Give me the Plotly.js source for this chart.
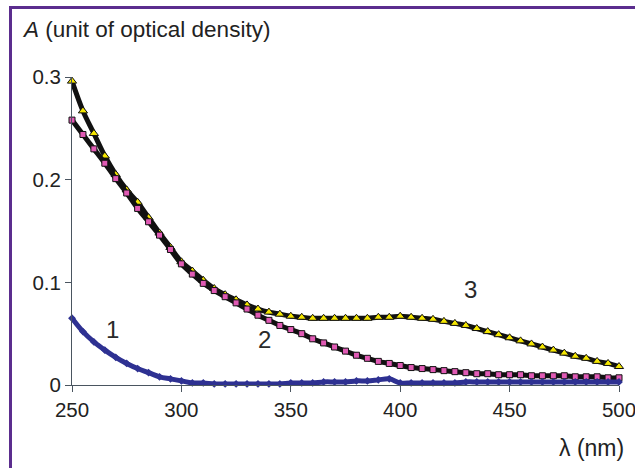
<!DOCTYPE html>
<html>
<head>
<meta charset="utf-8">
<script src="https://cdn.plot.ly/plotly-3.0.1.min.js"></script>
<style>
  html, body { margin: 0; padding: 0; background: #ffffff; }
  #wrap { position: relative; width: 635px; height: 468px; overflow: hidden; }
  #frame { position: absolute; left: 9px; top: 6px; width: 640px; height: 480px;
           border-left: 3px solid #5b2d8e; border-top: 3px solid #5b2d8e; pointer-events: none; }
  #chart { position: absolute; left: 0; top: 0; width: 635px; height: 468px; }
</style>
</head>
<body>
<div id="wrap">
  <div id="chart"></div>
  <div id="frame"></div>
</div>
<script>
// Wavelength (nm)
const wavelength = [250,255,260,265,270,275,280,285,290,295,300,305,310,315,320,325,330,335,340,345,
  350,355,360,365,370,375,380,385,390,395,400,405,410,415,420,425,430,435,440,445,
  450,455,460,465,470,475,480,485,490,495,500];

// Curve 1 (blue)
const curve1 = [0.065,0.052,0.042,0.034,0.027,0.021,0.016,0.012,0.008,0.006,0.004,0.002,0.002,0.001,0.001,0.001,0.001,0.001,0.001,0.001,
  0.002,0.002,0.002,0.003,0.003,0.003,0.004,0.004,0.005,0.006,0.002,0.002,0.002,0.002,0.002,0.002,0.003,0.003,0.003,0.003,
  0.003,0.003,0.003,0.003,0.003,0.003,0.003,0.003,0.003,0.003,0.003];

// Curve 2 (pink)
const curve2 = [0.258,0.244,0.230,0.216,0.201,0.187,0.172,0.159,0.146,0.132,0.118,0.108,0.099,0.092,0.086,0.080,0.074,0.068,0.063,0.058,
  0.054,0.050,0.045,0.041,0.037,0.033,0.029,0.026,0.023,0.021,0.019,0.017,0.016,0.015,0.014,0.013,0.012,0.011,0.011,0.010,
  0.010,0.010,0.009,0.009,0.009,0.009,0.008,0.008,0.008,0.007,0.007];

// Curve 3 (yellow)
const curve3 = [0.296,0.267,0.245,0.223,0.205,0.190,0.178,0.163,0.148,0.134,0.120,0.111,0.102,0.094,0.088,0.083,0.078,0.074,0.071,0.069,
  0.067,0.066,0.065,0.065,0.065,0.065,0.065,0.065,0.066,0.066,0.067,0.066,0.065,0.064,0.062,0.060,0.058,0.055,0.052,0.049,
  0.046,0.043,0.040,0.037,0.034,0.031,0.028,0.026,0.023,0.021,0.018];

// Curve labels
const labelText = ['1','2','3'];
const labelX = [268.5, 338, 432];
const labelY = [0.054, 0.044, 0.093];

const xTicks = [250,300,350,400,450,500];
const yTicks = [0,0.1,0.2,0.3];
const yTickText = ['0','0.1','0.2','0.3'];

const font = 'Liberation Sans, Arial, sans-serif';

const traces = [
  {
    x: wavelength, y: curve3, type: 'scatter', mode: 'lines+markers', cliponaxis: false,
    line: {color: '#111111', width: 5, shape: 'spline'},
    marker: {symbol: 'triangle-up', size: 8, color: '#f4e600', line: {color: '#111111', width: 1}},
    hoverinfo: 'skip'
  },
  {
    x: wavelength, y: curve2, type: 'scatter', mode: 'lines+markers', cliponaxis: false,
    line: {color: '#111111', width: 5, shape: 'spline'},
    marker: {symbol: 'square', size: 6, color: '#e05ab4', line: {color: '#111111', width: 1}},
    hoverinfo: 'skip'
  },
  {
    x: wavelength, y: curve1, type: 'scatter', mode: 'lines+markers', cliponaxis: false,
    line: {color: '#2e3192', width: 5, shape: 'spline'},
    marker: {symbol: 'diamond', size: 6, color: '#2e3192'},
    hoverinfo: 'skip'
  }
];

const annotations = labelText.map((t, i) => ({
  x: labelX[i], y: labelY[i], xref: 'x', yref: 'y', text: t, showarrow: false,
  font: {family: font, size: 24, color: '#2a2a2a'}
}));

annotations.push({
  xref: 'paper', yref: 'paper', x: -0.095, y: 1.1526, xanchor: 'left', yanchor: 'middle',
  text: '<i>A</i> (unit of optical density)', showarrow: false,
  font: {family: font, size: 22.5, color: '#222222'}
});
annotations.push({
  xref: 'paper', yref: 'paper', x: 1.013, y: -0.205, xanchor: 'right', yanchor: 'middle',
  text: 'λ (nm)', showarrow: false,
  font: {family: font, size: 23, color: '#222222'}
});

const layout = {
  width: 635, height: 468,
  margin: {l: 72, r: 16, t: 77, b: 83, pad: 0},
  paper_bgcolor: '#ffffff', plot_bgcolor: '#ffffff',
  showlegend: false,
  xaxis: {
    range: [250, 500], tickvals: xTicks, ticks: 'outside', ticklen: 6, tickcolor: '#4a5560', tickwidth: 1,
    showline: true, linecolor: '#4a5560', linewidth: 1, showgrid: false, zeroline: false,
    ticklabeloverflow: 'allow',
    tickfont: {family: font, size: 20.5, color: '#222222'}, anchor: 'y'
  },
  yaxis: {
    range: [0, 0.3], tickvals: yTicks, ticktext: yTickText, ticks: 'outside', ticklen: 6, tickcolor: '#4a5560', tickwidth: 1,
    showline: true, linecolor: '#4a5560', linewidth: 1, showgrid: false, zeroline: false,
    ticklabeloverflow: 'allow',
    tickfont: {family: font, size: 20.5, color: '#222222'}
  },
  annotations: annotations
};

Plotly.newPlot('chart', traces, layout, {displayModeBar: false, staticPlot: true});
</script>
</body>
</html>
